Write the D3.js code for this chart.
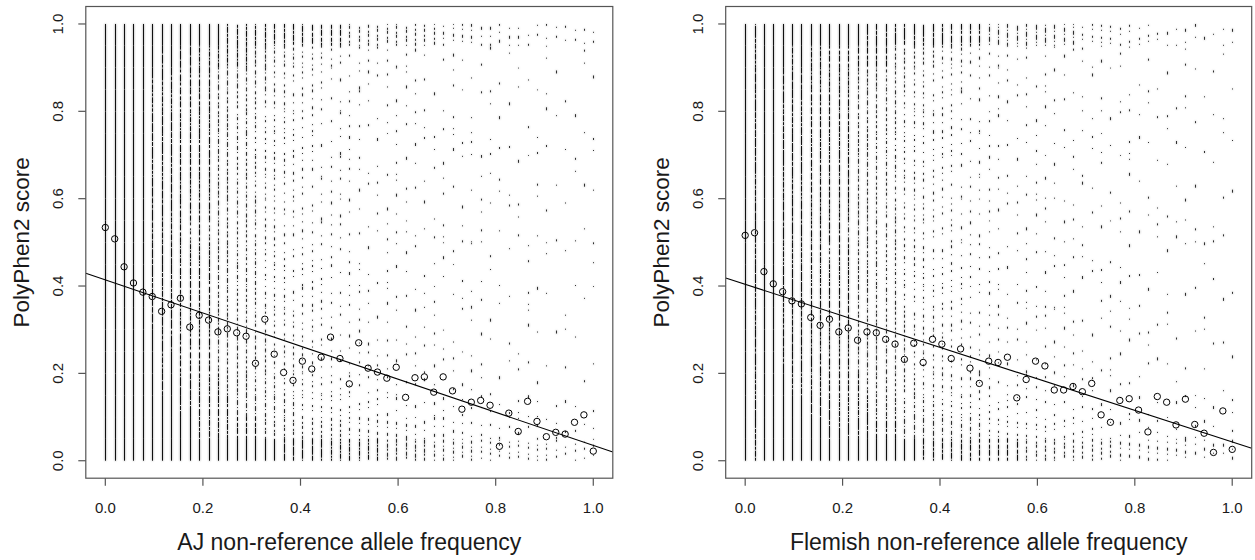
<!DOCTYPE html>
<html>
<head>
<meta charset="utf-8">
<script src="https://cdn.jsdelivr.net/npm/d3@7/dist/d3.min.js"></script>
<style>
  body { margin: 0; background: #fff; }
  svg text { font-family: "Liberation Sans", Arial, sans-serif; fill: #1a1a1a; }
</style>
</head>
<body>
<svg id="chart" width="1255" height="560"></svg>
<script>
// Non-reference allele counts per site, out of 52 sampled chromosomes
const alleleCounts = [0,1,2,3,4,5,6,7,8,9,10,11,12,13,14,15,16,17,18,19,20,21,22,23,24,25,
  26,27,28,29,30,31,32,33,34,35,36,37,38,39,40,41,42,43,44,45,46,47,48,49,50,51,52];
const chromosomes = 52;

const freqTicks = [0, 0.2, 0.4, 0.6, 0.8, 1.0];
const scoreTicks = [0, 0.2, 0.4, 0.6, 0.8, 1.0];

// Mean PolyPhen2 score at each allele count
const ajMeans = [0.534,0.508,0.444,0.407,0.386,0.376,0.342,0.357,0.372,0.306,0.333,0.322,0.295,
  0.302,0.293,0.285,0.223,0.324,0.244,0.202,0.184,0.228,0.210,0.237,0.283,0.234,0.176,0.270,
  0.212,0.203,0.189,0.214,0.145,0.190,0.192,0.157,0.192,0.160,0.118,0.134,0.138,0.127,0.033,
  0.109,0.067,0.136,0.090,0.055,0.065,0.061,0.088,0.105,0.022];
const flemishMeans = [0.516,0.522,0.433,0.405,0.387,0.366,0.359,0.328,0.310,0.324,0.295,0.304,
  0.276,0.295,0.293,0.278,0.267,0.232,0.269,0.225,0.278,0.267,0.234,0.256,0.212,0.177,0.228,
  0.225,0.237,0.144,0.186,0.228,0.217,0.162,0.162,0.170,0.158,0.177,0.105,0.088,0.138,0.142,
  0.116,0.066,0.147,0.134,0.082,0.141,0.083,0.063,0.019,0.114,0.026];

// Least-squares fit over all sites: [intercept, slope]
const ajFit = [0.414, -0.379];
const flemishFit = [0.404, -0.361];

// How crowded each column of sites is, in 20 score bands of 0.05 (bottom to top), 0 = empty, 9 = solid
const ajDensity = [
  "99999999999999999999","99999999999999999999","99999999999999999999","99999999999999999999",
  "99999999999999999999","99999988888888888899","99988888888888888889","99999888888888888899",
  "99887777777777777789","99887777776777777789","98777777777777777779","98777777776777777779",
  "98776666666666666679","98766666666566666678","97666655555555555678","97665555555555555578",
  "97655555554545455568","96555544444444444568","96554444444444444458","86544444433434344458",
  "86544443333333333358","85444433333333333348","85443333332323333347","85433333322222222347",
  "75433222222222222237","75332222222222222237","74332222221212222226","74322221211111112226",
  "74322221111111111226","74322211111111111126","64222111111111111126","64221111111111111116",
  "64221111111111011116","63211111111011111115","63211111101110111115","53211111011101101015",
  "53211110111011011014","53111101110110110114","52111011101101101014","52111011011010110104",
  "42111101101101011013","42110110110101101013","42110101101010110103","42101101010110101013",
  "41101010101101010103","41101011010101010102","41110101001010101002","41101001010100101012",
  "31100101001010010102","31101010010100101002","31100100101001010102","31010101001010010012",
  "31101001010010100102"
];
const flemishDensity = [
  "99999999999999999999","88888888888888888888","99999999999999999999","99999999999999999999",
  "99998888888888888899","99988888888888888889","99988888888888888899","99888777777777777789",
  "99887777777777777789","98877777767777777779","98777777777777777779","98777777776777777779",
  "98776666666666666679","98766666666666666678","97666665555555555678","97665555555555555578",
  "97655555555545455568","96555554444444444568","96554444444444444458","86544444443434344458",
  "86544443333333333358","85444433333333333348","85443333333323333347","85433333322222222347",
  "75433222222222222237","75332222222222222237","74332222222212222226","74322222211111112226",
  "74322221111111111226","74322211111111111126","64222111111111111126","64221111111111111116",
  "64221111111111011116","63211111111011111115","63211111101110111115","53211111011101101015",
  "53211110111011011014","53111101110110110114","52111011101101101014","52111011011010110104",
  "42111101101101011013","42110110110101101013","42110101101010110103","42101101010110101013",
  "41101010101101010103","41101011010101010102","41110101001010101002","41101001010100101012",
  "31100101001010010102","31101010010100101002","31100100101001010102","31010101001010010012",
  "31101001010010100102"
];

const panels = [
  { label: "AJ non-reference allele frequency", means: ajMeans, fit: ajFit, density: ajDensity,
    left: 85.8, right: 612.8 },
  { label: "Flemish non-reference allele frequency", means: flemishMeans, fit: flemishFit,
    density: flemishDensity, left: 725.7, right: 1251.7 }
];

const plotTop = 6.5, plotBottom = 478.2;
const bandSize = 0.05;

// dash rhythms used to stipple a band at each crowding level
const dashSets = {
  9: [null],
  8: ["9 1", "6 1 3 1", "12 1 4 1"],
  7: ["5 1 2 1", "4 2 6 1", "3 1 7 2"],
  6: ["4 2 2 1", "3 1 2 3", "5 2 1 2"],
  5: ["3 2 1 3", "2 3 3 2", "4 3 1 2"],
  4: ["2 3 1 5", "3 5 1 3", "1 3 2 6"],
  3: ["2 5 1 8", "1 6 3 7", "2 9 1 4"],
  2: ["2 9 1 14", "1 12 2 8", "3 15 1 10"],
  1: ["2 14 1 22", "1 18 3 13", "2 24 1 10", "1 11 2 27"]
};

const svg = d3.select("#chart");
const defs = svg.append("defs");
defs.append("filter").attr("id", "haze")
  .attr("x", "-5%").attr("y", "-5%").attr("width", "110%").attr("height", "110%")
  .append("feGaussianBlur").attr("stdDeviation", 1.3);

panels.forEach((p, pi) => {
  const x = d3.scaleLinear().domain([-0.04, 1.04]).range([p.left, p.right]);
  const y = d3.scaleLinear().domain([-0.04, 1.04]).range([plotBottom, plotTop]);
  const g = svg.append("g");

  const clipId = "plot-clip-" + pi;
  defs.append("clipPath").attr("id", clipId)
    .append("rect").attr("x", p.left).attr("y", plotTop)
    .attr("width", p.right - p.left).attr("height", plotBottom - plotTop);

  // columns of individual sites
  const segs = [];
  alleleCounts.forEach((c, k) => {
    const f = c / chromosomes;
    const col = p.density[k];
    for (let b = 0; b < col.length; b++) {
      const d = +col[b];
      if (d > 0) segs.push({ f, k, b, d });
    }
  });
  const drawSegs = (sel) => sel.selectAll("line").data(segs).join("line")
    .attr("x1", d => Math.round(x(d.f)) + 0.5)
    .attr("x2", d => Math.round(x(d.f)) + 0.5)
    .attr("y1", d => y(d.b * bandSize))
    .attr("y2", d => y((d.b + 1) * bandSize))
    .attr("stroke", "#111")
    .attr("stroke-opacity", d => d.d >= 7 ? 1 : 0.85)
    .attr("stroke-width", 1)
    .attr("stroke-dasharray", d => {
      const set = dashSets[d.d];
      return set[(d.k * 3 + d.b + pi) % set.length];
    })
    .attr("stroke-dashoffset", d => (d.k * 13 + d.b * 7 + pi * 5) % 47);

  // soft halo around the site marks, then the marks themselves
  drawSegs(g.append("g").attr("filter", "url(#haze)").attr("opacity", 0.5));
  drawSegs(g.append("g"));

  // fitted line
  g.append("line")
    .attr("clip-path", `url(#${clipId})`)
    .attr("x1", x(-0.04)).attr("y1", y(p.fit[0] + p.fit[1] * -0.04))
    .attr("x2", x(1.04)).attr("y2", y(p.fit[0] + p.fit[1] * 1.04))
    .attr("stroke", "#000").attr("stroke-width", 1.1);

  // mean score per allele count
  g.append("g").selectAll("circle").data(alleleCounts).join("circle")
    .attr("cx", (c) => x(c / chromosomes))
    .attr("cy", (c, i) => y(p.means[i]))
    .attr("r", 3.2)
    .attr("fill", "none")
    .attr("stroke", "#000")
    .attr("stroke-width", 1);

  // frame
  g.append("rect")
    .attr("x", p.left).attr("y", plotTop)
    .attr("width", p.right - p.left).attr("height", plotBottom - plotTop)
    .attr("fill", "none").attr("stroke", "#555").attr("stroke-width", 1.2);

  // x axis
  const xa = g.append("g");
  xa.selectAll("line").data(freqTicks).join("line")
    .attr("x1", d => x(d)).attr("x2", d => x(d))
    .attr("y1", plotBottom).attr("y2", plotBottom + 7.5)
    .attr("stroke", "#555").attr("stroke-width", 1.2);
  xa.selectAll("text").data(freqTicks).join("text")
    .attr("x", d => x(d)).attr("y", 512.5)
    .attr("text-anchor", "middle").attr("font-size", 15)
    .text(d => d3.format(".1f")(d));

  // y axis
  const ya = g.append("g");
  ya.selectAll("line").data(scoreTicks).join("line")
    .attr("x1", p.left).attr("x2", p.left - 7.5)
    .attr("y1", d => y(d)).attr("y2", d => y(d))
    .attr("stroke", "#555").attr("stroke-width", 1.2);
  ya.selectAll("text").data(scoreTicks).join("text")
    .attr("transform", d => `translate(${p.left - 22.6},${y(d)}) rotate(-90)`)
    .attr("text-anchor", "middle").attr("font-size", 15)
    .text(d => d3.format(".1f")(d));

  // axis titles
  g.append("text")
    .attr("x", (p.left + p.right) / 2).attr("y", 549.5)
    .attr("text-anchor", "middle").attr("font-size", 23)
    .text(p.label);
  g.append("text")
    .attr("transform", `translate(${p.left - 56.5},${(plotTop + plotBottom) / 2}) rotate(-90)`)
    .attr("text-anchor", "middle").attr("font-size", 22.5)
    .text("PolyPhen2 score");
});
</script>
</body>
</html>
